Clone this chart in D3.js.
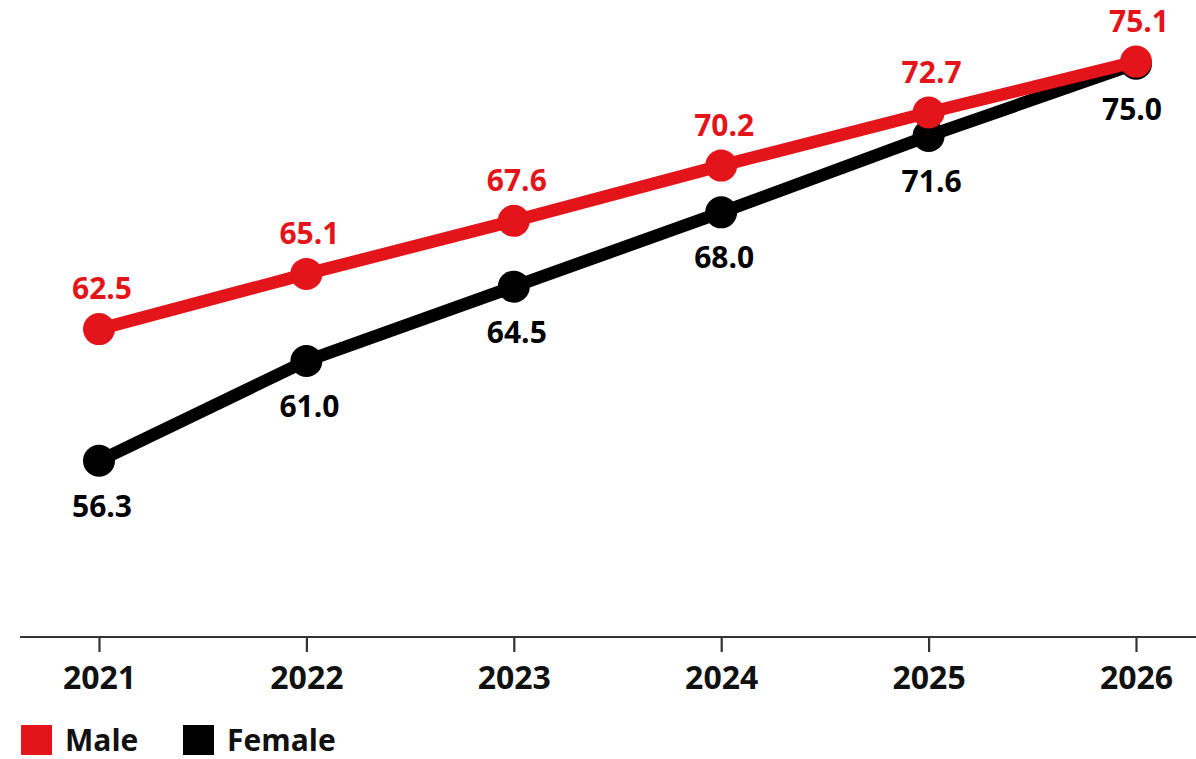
<!DOCTYPE html>
<html>
<head>
<meta charset="utf-8">
<script src="https://cdn.jsdelivr.net/npm/d3@7"></script>
<style>
  html, body { margin: 0; padding: 0; background: #fff; }
  svg { display: block; }
  text { font-family: "Open Sans", "Liberation Sans", sans-serif; font-weight: 700; }
</style>
</head>
<body>
<svg id="chart" width="1196" height="759"></svg>
<script>
const years = [2021, 2022, 2023, 2024, 2025, 2026];
const male = [62.5, 65.1, 67.6, 70.2, 72.7, 75.1];
const female = [56.3, 61.0, 64.5, 68.0, 71.6, 75.0];
const seriesNames = ["Male", "Female"];
const seriesColors = ["#e3151a", "#000000"];

const svg = d3.select("#chart");
const W = 1196, H = 759;
const axisY = 637;

const x = d3.scalePoint().domain(years).range([99, 1136]);
const y = d3.scaleLinear().domain([48, 78]).range([axisY, 0]);

// x axis
const xAxis = d3.axisBottom(x).tickSize(15).tickPadding(14).tickFormat(d3.format("d"));
const gx = svg.append("g").attr("transform", `translate(0,${axisY})`).call(xAxis);
gx.select(".domain").remove();
gx.append("line").attr("x1", 20).attr("x2", W).attr("y1", 0).attr("y2", 0)
  .attr("stroke", "#333").attr("stroke-width", 2.2);
gx.selectAll(".tick line").attr("stroke", "#333").attr("stroke-width", 2.2);
gx.selectAll(".tick text").attr("font-size", 32).attr("fill", "#111")
  .style("font-family", '"Open Sans", sans-serif').style("font-weight", 700)
  .attr("dy", "0.71em");

const line = d3.line().x((d, i) => x(years[i])).y(d => y(d));

const series = [
  { name: seriesNames[1], values: female, color: seriesColors[1], labelDy: 56 },
  { name: seriesNames[0], values: male, color: seriesColors[0], labelDy: -30 }
];

series.forEach(s => {
  svg.append("path").datum(s.values)
    .attr("d", line).attr("fill", "none")
    .attr("stroke", s.color).attr("stroke-width", 12.5)
    .attr("stroke-linejoin", "round");
  svg.selectAll(null).data(s.values).enter().append("circle")
    .attr("cx", (d, i) => x(years[i])).attr("cy", d => y(d))
    .attr("r", 16).attr("fill", s.color);
});

series.forEach(s => {
  svg.selectAll(null).data(s.values).enter().append("text")
    .attr("x", (d, i) => x(years[i]) + (s.labelDy > 0 && years[i] === 2026 ? -4 : 3))
    .attr("y", d => y(d) + s.labelDy)
    .attr("text-anchor", "middle")
    .attr("font-size", 30)
    .attr("fill", s.color)
    .text(d => d.toFixed(1));
});

// legend
const legend = svg.append("g").attr("transform", "translate(21,725)");
const legendX = [0, 162];
seriesNames.forEach((n, i) => {
  const g = legend.append("g").attr("transform", `translate(${legendX[i]},0)`);
  g.append("rect").attr("width", 31).attr("height", 30).attr("fill", seriesColors[i]);
  g.append("text").attr("x", 44).attr("y", 26).attr("font-size", 30).attr("fill", "#111").text(n);
});
</script>
</body>
</html>
